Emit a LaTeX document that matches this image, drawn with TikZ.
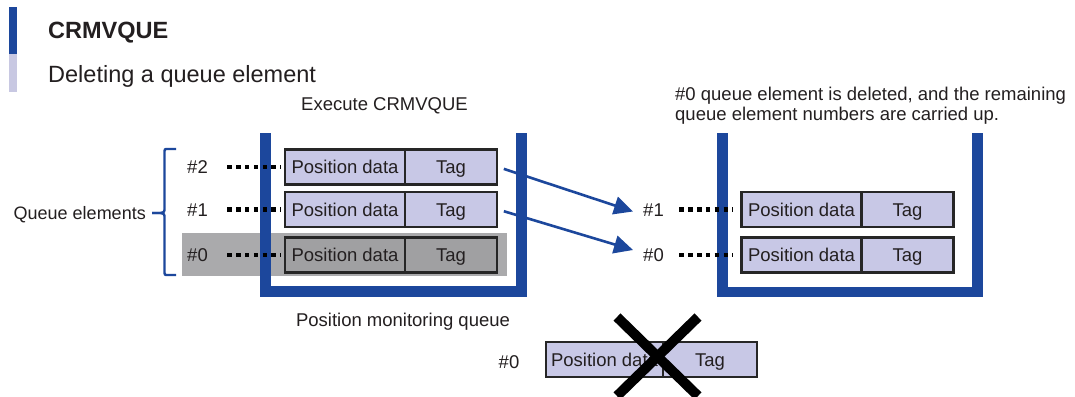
\documentclass[tikz,border=0pt]{standalone}
\usepackage{fontspec}
\setmainfont{Liberation Sans}
\usetikzlibrary{arrows.meta}
\definecolor{qblue}{RGB}{28,71,156}
\definecolor{lav}{RGB}{200,200,230}
\definecolor{barlav}{RGB}{200,200,226}
\definecolor{bggray}{RGB}{170,170,172}
\definecolor{boxgray}{RGB}{160,160,162}
\definecolor{txt}{RGB}{35,31,32}
\definecolor{edge}{RGB}{38,38,38}
\begin{document}
\begin{tikzpicture}[x=1pt,y=-1pt,
  lbl/.style={font=\fontsize{18.5}{18.5}\selectfont, text=txt, inner sep=0pt},
  caplbl/.style={lbl, text height=13.2pt, text depth=0pt},
  cell/.style={caplbl, draw=edge, line width=2.2pt, fill=lav, minimum height=35pt},
  pdcell/.style={cell, minimum width=120pt},
  tagcell/.style={cell, minimum width=92pt},
  graycell/.style={fill=boxgray},
  container/.style={draw=qblue, line width=10.5pt, line cap=butt, line join=miter},
  dotline/.style={draw=black, line width=4.4pt, dash pattern=on 4.4pt off 4.4pt},
  moveto/.style={draw=qblue, line width=2.6pt, -{Triangle[length=19pt,width=18pt]}},
  bracestyle/.style={draw=qblue, line width=2.4pt},
  crossline/.style={draw=black, line width=10pt}
]
\useasboundingbox (0,0) rectangle (1075,396);
\fill[white] (0,0) rectangle (1075,396);

% heading bar
\fill[qblue] (9,7) rectangle (17,54);
\fill[barlav] (9,54) rectangle (17,92);
\node[anchor=base west, inner sep=0pt, text=txt, font=\fontsize{23.5}{23.5}\selectfont\bfseries] (title) at (48,38.3) {CRMVQUE};
\node[anchor=base west, inner sep=0pt, text=txt, font=\fontsize{23.5}{23.5}\selectfont] (subtitle) at (48,82) {Deleting a queue element};

% captions
\node[lbl, anchor=base] (exec) at (384.5,110) {Execute CRMVQUE};
\node[lbl, anchor=base] (pmq) at (403,326) {Position monitoring queue};
\node[lbl, anchor=base west] (note1) at (675,100) {\#0 queue element is deleted, and the remaining};
\node[lbl, anchor=base west] (note2) at (675,120.5) {queue element numbers are carried up.};

% gray background of element #0
\fill[bggray] (182,233) rectangle (507,276);

% containers
\draw[container] (265.5,133) -- (265.5,291.5) -- (521.7,291.5) -- (521.7,133);
\draw[container] (722.5,133) -- (722.5,292) -- (977.5,292) -- (977.5,133);

% left queue elements
\node[pdcell] (L2p) at (345,167) {Position data};
\node[tagcell] (L2t) at (451,167) {Tag};
\node[pdcell] (L1p) at (345,209.5) {Position data};
\node[tagcell] (L1t) at (451,209.5) {Tag};
\node[pdcell, graycell] (L0p) at (345,255) {Position data};
\node[tagcell, graycell] (L0t) at (451,255) {Tag};

\node[caplbl] (L2lab) at (197.5,167) {\#2};
\node[caplbl] (L1lab) at (197.5,209.5) {\#1};
\node[caplbl] (L0lab) at (197.5,255) {\#0};

\draw[dotline, shorten <=19.5pt, shorten >=3pt] (L2lab.east) -- (L2p.west);
\draw[dotline, shorten <=19.5pt, shorten >=3pt] (L1lab.east) -- (L1p.west);
\draw[dotline, shorten <=19.5pt, shorten >=3pt] (L0lab.east) -- (L0p.west);

% right queue elements
\node[pdcell] (R1p) at (801.5,209.5) {Position data};
\node[tagcell] (R1t) at (907.5,209.5) {Tag};
\node[pdcell] (R0p) at (801.5,255) {Position data};
\node[tagcell] (R0t) at (907.5,255) {Tag};

\node[caplbl] (R1lab) at (653.5,209.5) {\#1};
\node[caplbl] (R0lab) at (653.5,255) {\#0};

\draw[dotline, shorten <=15.5pt, shorten >=8pt] (R1lab.east) -- (R1p.west);
\draw[dotline, shorten <=15.5pt, shorten >=8pt] (R0lab.east) -- (R0p.west);

% moves
\draw[moveto, shorten <=6pt] (L2t.east) -- ([xshift=-10pt,yshift=-2pt]R1lab.west);
\draw[moveto, shorten <=6pt] (L1t.east) -- ([xshift=-10pt,yshift=5pt]R0lab.west);

% brace and its label
\node[caplbl, anchor=east, font=\fontsize{18}{18}\selectfont] (qe) at (146,213) {Queue elements};
\coordinate (btip) at (152,213);
\draw[bracestyle] (176,149) -- (168,149) .. controls (164.5,149) .. (164.5,153)
  -- (164.5,208) .. controls (164.5,212) .. (160.5,213) -- (btip);
\draw[bracestyle] (176,275) -- (168,275) .. controls (164.5,275) .. (164.5,271)
  -- (164.5,218) .. controls (164.5,214) .. (160.5,213) -- (btip);

% deleted element
\node[caplbl] (D0lab) at (509,361.5) {\#0};
\node[cell, minimum width=117pt] (D0p) at (604.5,359.5) {Position data};
\node[cell, minimum width=94pt] (D0t) at (710,359.5) {Tag};
\draw[crossline] (617,317) -- (698,396);
\draw[crossline] (698,317) -- (617,396);
\end{tikzpicture}
\end{document}
